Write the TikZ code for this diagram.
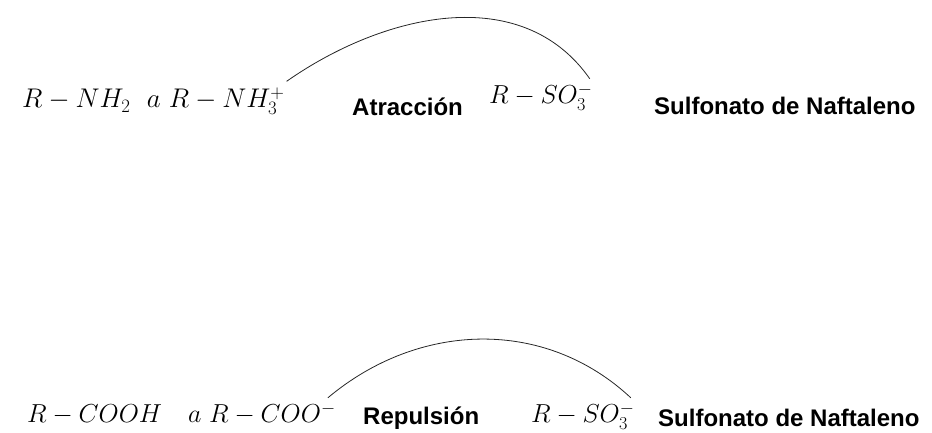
\documentclass[tikz,border=0pt]{standalone}
\usepackage{fix-cm}
\usepackage{fontspec}
\newfontfamily\labelfont{Liberation Sans}
\begin{document}
\begin{tikzpicture}[x=1pt,y=1pt,
  formula/.style={inner sep=0pt,anchor=base west,font=\fontsize{26}{30}\selectfont},
  lbl/.style={inner sep=0pt,anchor=base west,font=\labelfont\bfseries\fontsize{24}{28}\selectfont},
  arcline/.style={draw=black!85,line width=0.8pt}]
\useasboundingbox (0,0) rectangle (932,433);
% top row
\node[formula,font=\fontsize{27}{31}\selectfont] (a1) at (22,325) {$R-NH_2\ \ a\ R-NH_3^+$};
\node[lbl] (a2) at (352,317) {Atracción};
\node[formula] (a3) at (489,329) {$R-SO_3^-$};
\node[lbl] (a4) at (654,318) {Sulfonato de Naftaleno};
% bottom row
\node[formula] (b1) at (27,10) {$R-COOH\quad a\ R-COO^-$};
\node[lbl] (b2) at (363,8) {Repulsión};
\node[formula] (b3) at (531,10) {$R-SO_3^-$};
\node[lbl] (b4) at (658,6) {Sulfonato de Naftaleno};
% arcs
\draw[arcline] ([shift={(2,6)}]a1.north east) to[out=35,in=125] ([shift={(-3,5)}]a3.north east);
\draw[arcline] ([shift={(-8,5)}]b1.north east) to[out=40,in=137] ([shift={(-4,5)}]b3.north east);
\end{tikzpicture}
\end{document}
